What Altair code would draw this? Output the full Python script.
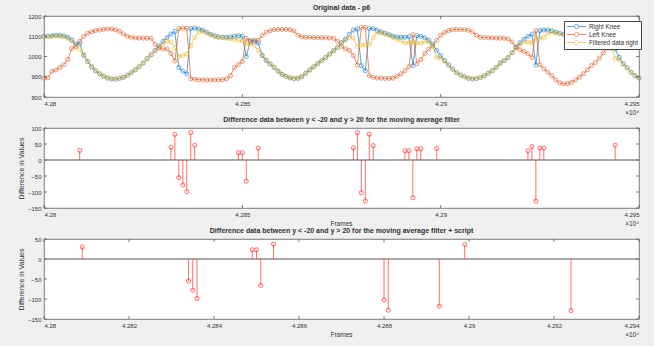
import altair as alt
import pandas as pd

# ---- knee angle traces, one value per frame starting at first_frame ----
first_frame = 42800
right_knee = [
    1100, 1100, 1103, 1105, 1105, 1102, 1095, 1082, 1062, 1064,
    1005, 975, 948, 930, 914, 902, 893, 889, 888, 892,
    897, 907, 920, 935, 950, 968, 990, 1008, 1030, 1052,
    1075, 1093, 1111, 1124, 946, 927, 914, 1138, 1140, 1136,
    1130, 1120, 1110, 1103, 1097, 1095, 1095, 1097, 1100, 1103,
    1100, 1000, 1076, 1072, 1068, 1004, 980, 963, 946, 928,
    912, 902, 894, 891, 892, 900, 918, 935, 950, 966,
    980, 995, 1012, 1030, 1045, 1068, 1086, 1110, 1130, 1136,
    955, 930, 1138, 1137, 1130, 1122, 1115, 1108, 1100, 1097,
    1095, 1095, 1098, 955, 1103, 1100, 1092, 1081, 1062, 1030,
    1004, 980, 958, 938, 920, 908, 900, 892, 889, 891,
    896, 905, 917, 930, 946, 968, 980, 995, 1020, 1045,
    1068, 1086, 1100, 1110, 958, 1128, 1131, 1131, 1128, 1120,
    1115, 1110, 1105, 1100, 1098, 1097, 1096, 1095, 1093, 1090,
    1082, 1072, 1060, 1045, 1036, 996, 965, 945, 922, 905,
    894,
]
left_knee = [
    893, 895, 927, 933, 946, 960, 985, 1040, 1048, 1075,
    1100, 1115, 1122, 1128, 1131, 1134, 1136, 1136, 1132, 1125,
    1112, 1100, 1095, 1092, 1091, 1091, 1090, 1090, 1060, 1042,
    1038, 1037, 1015, 978, 1138, 1140, 1140, 890, 888, 886,
    885, 884, 884, 884, 885, 886, 890, 905, 945, 960,
    975, 1090, 1078, 1082, 1080, 1103, 1120, 1128, 1132, 1134,
    1134, 1134, 1132, 1126, 1105, 1097, 1095, 1094, 1094, 1093,
    1093, 1092, 1092, 1090, 1075, 1050, 1038, 1030, 1005, 958,
    1144, 1144, 905, 897, 894, 893, 892, 892, 893, 902,
    915, 930, 950, 1108, 965, 985, 1015, 1037, 1053, 1080,
    1105, 1119, 1128, 1133, 1133, 1133, 1133, 1130, 1122, 1105,
    1095, 1094, 1093, 1092, 1091, 1091, 1090, 1088, 1072, 1048,
    1033, 1025, 1013, 995, 1128, 960, 940, 922, 905, 885,
    870, 865, 866, 872, 885, 898, 915, 935, 955, 970,
    992, 1018, 1042, 1048, 1055, 1068, 1080, 1092, 1102, 1115,
    1120,
]
filtered_right = [
    1097, 1098, 1100, 1101, 1100, 1097, 1090, 1076, 1055, 1034,
    1010, 978, 952, 932, 916, 904, 895, 891, 890, 893,
    899, 908, 920, 934, 950, 968, 988, 1008, 1028, 1045,
    1062, 1076, 1071, 1044, 1001, 1005, 1013, 1052, 1094, 1120,
    1124, 1116, 1106, 1099, 1094, 1092, 1090, 1088, 1085, 1080,
    1077, 1066, 1062, 1055, 1031, 1008, 984, 965, 948, 930,
    914, 903, 896, 893, 894, 902, 916, 932, 948, 963,
    978, 994, 1010, 1027, 1044, 1064, 1080, 1095, 1092, 1050,
    1057, 1058, 1057, 1092, 1118, 1117, 1111, 1104, 1094, 1085,
    1078, 1066, 1069, 1073, 1068, 1065, 1074, 1072, 1050, 994,
    992, 976, 957, 938, 921, 909, 900, 894, 891, 892,
    897, 906, 917, 931, 946, 964, 980, 996, 1018, 1040,
    1060, 1072, 1071, 1068, 1087, 1091, 1094, 1115, 1120, 1117,
    1112, 1107, 1103, 1099, 1097, 1096, 1095, 1093, 1091, 1087,
    1079, 1068, 1055, 1040, 990, 985, 962, 943, 923, 907,
    897,
]
series_names = ["Right Knee", "Left Knee", "Filtered data right"]
series_colors = ["#0072BD", "#D95319", "#EDB120"]

# ---- differences beyond +/-20 (moving average filter) ----
ma_frames = [42809, 42832, 42833, 42834, 42835, 42836, 42837, 42838,
             42849, 42850, 42851, 42854,
             42878, 42879, 42880, 42881, 42882, 42883,
             42891, 42892, 42893, 42894, 42895, 42899,
             42922, 42923, 42924, 42925, 42926, 42944]
ma_diff = [30, 40, 80, -55, -78, -99, 86, 46,
           23, 23, -66, 37,
           38, 86, -102, -128, 81, 45,
           29, 29, -118, 35, 35, 36,
           29, 42, -129, 37, 37, 46]

# ---- differences beyond +/-20 (moving average filter + script) ----
script_frames = [42809, 42834, 42835, 42836, 42849, 42850, 42851, 42854,
                 42880, 42881, 42893, 42899, 42924]
script_diff = [30, -55, -78, -99, 23, 23, -66, 37,
               -102, -128, -118, 36, -129]

# ---- axis ticks ----
x1_ticks = [42800, 42850, 42900, 42950]
y1_ticks = [800, 900, 1000, 1100, 1200]
y2_ticks = [-150, -100, -50, 0, 50, 100]
x3_ticks = [42800, 42820, 42840, 42860, 42880, 42900, 42920, 42940]
y3_ticks = [-150, -100, -50, 0, 50]

W = 595
H1, H2, H3 = 81, 80, 80
FONT = "Liberation Sans"
INK = "#303030"
BOX = "#5c5c5c"
STEM = "#ff2a2a"
TICK_LEN = 3

# legend glyph: short line with an open circle in the middle (unit size 6 px)
LEGEND_SYMBOL = ("M-3.2,0L-0.7,0M0.7,0L3.2,0"
                 "M-0.7,0A0.7,0.7,0,1,1,0.7,0A0.7,0.7,0,1,1,-0.7,0")


def x_axis(vals):
    return alt.Axis(values=vals, title=None, grid=False, ticks=False, domain=False,
                    labelExpr="format(datum.value / 10000, '.4~f')",
                    labelFontSize=6, labelFont=FONT, labelColor=INK, labelPadding=3)


def y_axis(vals, title=None):
    return alt.Axis(values=vals, title=title, grid=False, ticks=False, domain=False,
                    format="d", labelFontSize=6, labelFont=FONT, labelColor=INK,
                    labelPadding=3, titleFontSize=7, titleFont=FONT,
                    titleFontWeight="normal", titleColor=INK, titlePadding=3)


def one_row():
    return pd.DataFrame({"a": [0]})


def inward_ticks(xs, ys, xscale, yscale, xaxis, yaxis, h):
    xt = pd.DataFrame({"frame": xs})
    yt = pd.DataFrame({"v": ys})
    style = dict(color=BOX, strokeWidth=0.8)
    xenc = alt.X("frame:Q", scale=xscale, axis=xaxis)
    yenc = alt.Y("v:Q", scale=yscale, axis=yaxis)
    return [
        alt.Chart(xt).mark_rule(**style).encode(x=xenc, y=alt.value(h), y2=alt.value(h - TICK_LEN)),
        alt.Chart(xt).mark_rule(**style).encode(x=xenc, y=alt.value(0), y2=alt.value(TICK_LEN)),
        alt.Chart(yt).mark_rule(**style).encode(y=yenc, x=alt.value(0), x2=alt.value(TICK_LEN)),
        alt.Chart(yt).mark_rule(**style).encode(y=yenc, x=alt.value(W), x2=alt.value(W - TICK_LEN)),
    ]


def corner_text(text, x, y, align="center"):
    return alt.Chart(one_row()).mark_text(
        text=text, font=FONT, fontSize=6.5, color=INK, align=align, baseline="middle"
    ).encode(x=alt.value(x), y=alt.value(y))


def panel_title(text):
    return alt.TitleParams(text=text, fontSize=7, fontWeight="bold", font=FONT,
                           color=INK, offset=2, anchor="middle")


# ---- panel 1: original traces ----
frames = list(range(first_frame, first_frame + len(right_knee)))
knees = pd.DataFrame({
    "frame": frames * 3,
    "v": right_knee + left_knee + filtered_right,
    "series": [name for name in series_names for _ in frames],
})
x1_scale = alt.Scale(domain=[42800, 42950], nice=False, zero=False)
y1_scale = alt.Scale(domain=[800, 1200], nice=False, zero=False)
x1_axis = x_axis(x1_ticks)
y1_axis = y_axis(y1_ticks)
color_scale = alt.Scale(domain=series_names, range=series_colors)
color = alt.Color(
    "series:N", scale=color_scale, sort=series_names,
    legend=alt.Legend(
        title=None, orient="none", legendX=520, legendY=5,
        symbolType=LEGEND_SYMBOL, symbolSize=36, symbolStrokeWidth=0.9,
        symbolFillColor="transparent", symbolOffset=7,
        labelFontSize=6.3, labelFont=FONT, labelColor=INK, labelOffset=9,
        padding=2, rowPadding=-1.6, strokeColor="#444444", fillColor="white",
    ),
)
lines = alt.Chart(knees).mark_line(strokeWidth=0.9, opacity=0.72).encode(
    x=alt.X("frame:Q", scale=x1_scale, axis=x1_axis),
    y=alt.Y("v:Q", scale=y1_scale, axis=y1_axis),
    color=color,
)
dots = alt.Chart(knees).mark_point(shape="circle", filled=False, size=17,
                                    strokeWidth=0.8, opacity=0.72).encode(
    x=alt.X("frame:Q", scale=x1_scale, axis=x1_axis),
    y=alt.Y("v:Q", scale=y1_scale, axis=y1_axis),
    color=color,
)
p1 = alt.layer(
    lines, dots,
    *inward_ticks(x1_ticks, y1_ticks, x1_scale, y1_scale, x1_axis, y1_axis, H1),
    corner_text("\u00d710\u2074", W, H1 + 16, align="right"),
).properties(width=W, height=H1, title=panel_title("Original data - p6"))


# ---- stem panels ----
def stem_panel(fr, vals, xdomain, xticks, yticks, h, title):
    df = pd.DataFrame({"frame": fr, "v": vals, "base": [0] * len(fr)})
    xs = alt.Scale(domain=xdomain, nice=False, zero=False)
    ys = alt.Scale(domain=[yticks[0], yticks[-1]], nice=False, zero=False)
    xa = x_axis(xticks)
    ya = y_axis(yticks, "Difference in Values")
    baseline = alt.Chart(pd.DataFrame({"v": [0]})).mark_rule(
        color="#8c8c8c", strokeWidth=1.3
    ).encode(y=alt.Y("v:Q", scale=ys, axis=ya))
    stems = alt.Chart(df).mark_rule(color=STEM, strokeWidth=0.8, opacity=0.85).encode(
        x=alt.X("frame:Q", scale=xs, axis=xa),
        y=alt.Y("v:Q", scale=ys, axis=ya),
        y2="base:Q",
    )
    heads = alt.Chart(df).mark_point(shape="circle", filled=False, size=17,
                                     strokeWidth=0.8, color=STEM, opacity=0.85).encode(
        x=alt.X("frame:Q", scale=xs, axis=xa),
        y=alt.Y("v:Q", scale=ys, axis=ya),
    )
    return alt.layer(
        baseline, stems, heads,
        *inward_ticks(xticks, yticks, xs, ys, xa, ya, h),
        corner_text("Frames", W / 2, h + 16),
        corner_text("\u00d710\u2074", W, h + 16, align="right"),
    ).properties(width=W, height=h, title=panel_title(title))


p2 = stem_panel(ma_frames, ma_diff, [42800, 42950], x1_ticks, y2_ticks, H2,
                "Difference data between y < -20 and y > 20 for the moving average filter")
p3 = stem_panel(script_frames, script_diff, [42800, 42940], x3_ticks, y3_ticks, H3,
                "Difference data between y < -20 and y > 20 for the moving average filter + script")

chart = alt.vconcat(
    p1, p2, p3, spacing=31, bounds="flush",
    padding={"left": 17, "top": 3, "right": 10, "bottom": 11},
    background="#f0f0f0",
).configure_view(fill="white", stroke=BOX, strokeWidth=0.8)

chart.save("out.html", embed_options={"renderer": "svg", "actions": False})
